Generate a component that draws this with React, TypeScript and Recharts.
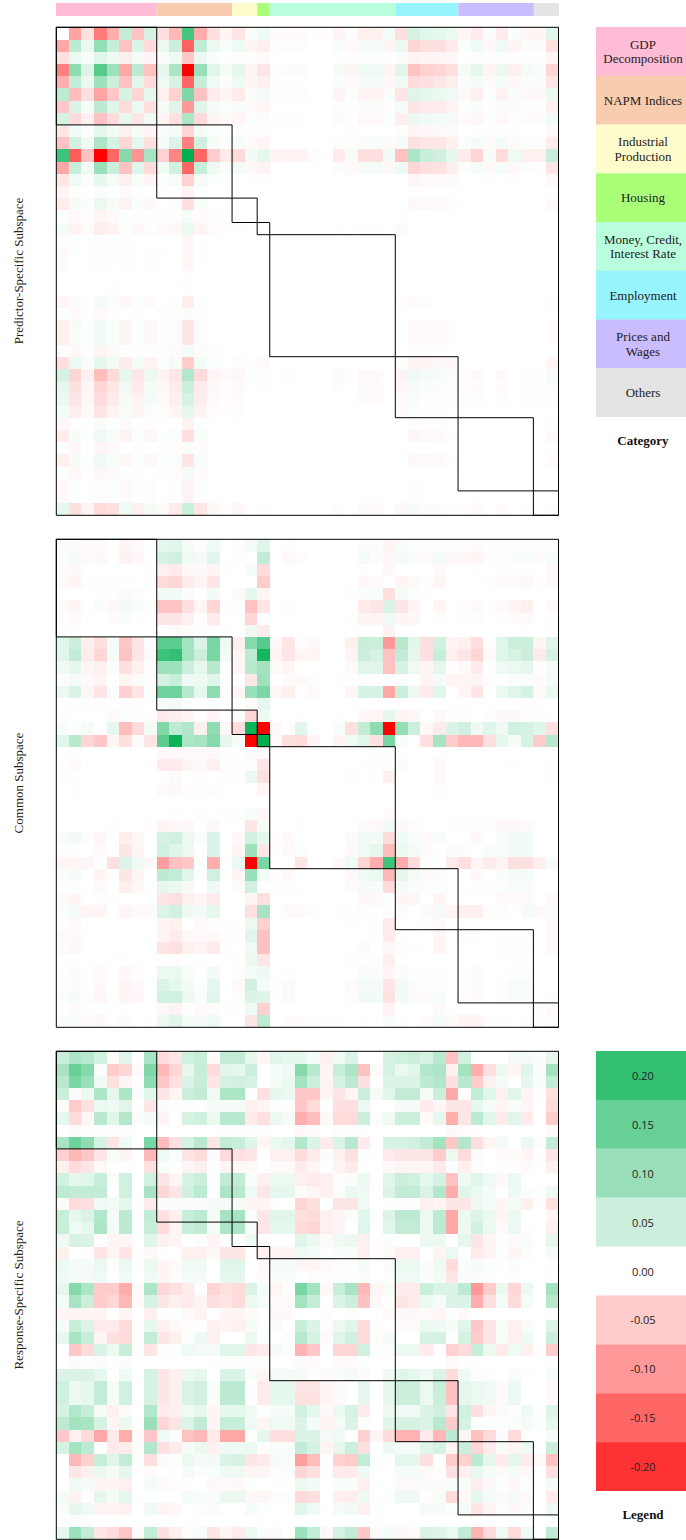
import React from 'react';
import { BarChart, Bar, ScatterChart, Scatter, XAxis, YAxis, ReferenceArea } from 'recharts';

// values are in hundredths
const predictorRows: number[][] = [
[0,-9,-3,-13,-8,6,-6,4,-3,-7,18,-8,-3,-1,-2.5,.7,1.5,-.5,-.5,-.5,-.3,-.2,-1,.5,-1.5,-1.5,1,-3,4,3,2.5,2,-1,-2,.5,-2,.5,-1,-1,3],
[-8.5,6.5,2,10.5,5.5,-6,3.5,-3.5,2,5,-15.5,6,2,.7,1.5,-1,-1.5,.2,.3,.3,0,0,.7,-.5,1,1,-1,2,-4,-3,-3,-2,.7,1.5,-.7,1.5,-1,.5,.5,-3],
[-3,2,.7,3,1.5,-1.7,1,-1,.5,1.5,-5.5,2,.5,.2,.3,-.3,-.5,0,0,0,0,0,.2,-.2,.3,.3,-.2,.5,-1.3,-1,-1,-.7,.2,.4,-.2,.4,-.3,.2,.2,-1],
[-12.5,11,3.5,16.5,9.5,-8.5,6.5,-6,2.5,8,-25,10,3,1,2.5,-1,-2.5,.3,.5,.5,0,0,1,-1,1.5,1.5,-1,3,-6,-4.5,-4,-3,1,2.5,-1,2,-1.5,1,.7,-4],
[-8,6,2,9.5,5,-6,3,-3.5,1.7,4,-15,5.5,1.5,.5,1.5,-1,-1.5,.2,.2,.2,0,0,.5,-.5,1,1,-.7,1.7,-3.5,-3,-2.5,-1.7,.5,1,-.5,1,-.7,.5,.5,-2.5],
[6.5,-6.5,-3,-9,-5.5,4,-4,2.5,-1.5,-4.5,12.5,-6,-2,-1,-2,.5,1,-.3,-.3,-.3,0,0,-1,.3,-1.2,-1.2,.5,-2.5,3,2.5,2,1.5,-.7,-1.5,.4,-1.3,.5,-.7,-.7,2],
[-5.5,3.5,1,6.5,3,-3.5,2,-3,1,3,-10,3,1,.3,.7,-.5,-1,0,0,0,0,0,.3,-.2,.5,.5,-.3,1,-2.5,-2,-2,-1.3,.3,.7,-.3,.5,-.5,.2,.2,-1.5],
[4,-3.5,-1.5,-6,-3.5,2.5,-2.5,1.5,-1,-3,8,-3.5,-1,-.5,-1,.3,.5,-.1,-.1,-.1,0,0,-.5,.1,-.7,-.7,.2,-1.5,2,1.5,1.2,1,-.5,-.8,.2,-.7,.2,-.4,-.4,1.3],
[-2.5,1.5,.5,2.5,1.2,-1.5,.8,-1,.5,1,-4,1.2,.3,.2,.3,-.2,-.3,0,0,0,0,0,0,-.1,0,0,0,.3,-1,-.7,-.7,-.5,.1,.2,-.1,.2,-.1,.1,.1,-.5],
[-6,4.5,1.5,8,4,-4,2.5,-3,1,3.5,-12.5,4.5,1,.3,1,-.5,-1,0,0,0,0,0,.3,-.3,.7,.7,-.5,1,-3,-2.5,-2.5,-1.5,.5,1,-.5,1,-.5,.3,.3,-2],
[19,-16,-6,-25,-15,12,-10.5,8.5,-4.5,-12,25,-15,-5,-2,-3.5,1.2,2.5,-1,-1.3,-1.3,-.3,0,-2,.8,-3,-3,1.2,-6,8,5.5,4.5,2.5,-2,-4,.8,-3.5,1.5,-1.5,-1.5,5.5],
[-8.5,5.5,1.7,10,5,-6,3,-3.5,1.5,4.5,-15,5.5,1.5,.5,1.2,-.7,-1.3,0,0,0,0,0,.5,-.5,1,1,-.7,1.5,-4,-3,-2.7,-1.7,.5,1,-.5,1,-.7,.5,.3,-2.5],
[-2.5,1.5,.5,2.5,1,-1.5,.7,-1,.3,.8,-4.5,1,.2,.1,.1,-.1,-.2,0,0,0,0,0,0,0,0,0,0,0,-.8,-.6,-.6,-.4,.1,.1,-.1,.1,-.1,.1,.1,-.7],
[-1,.3,.1,.6,.2,-.5,.1,-.2,.1,.2,-1.2,.3,0,0,0,0,0,0,0,0,0,0,0,0,0,0,0,0,-.3,-.1,-.1,0,0,0,0,0,0,0,0,-.1],
[-2,1,.3,2,.8,-1.3,.5,-.7,.1,.5,-3,.7,.1,0,0,0,0,0,0,0,0,0,0,0,0,0,0,.1,-.7,-.5,-.5,-.3,0,0,0,0,0,0,0,-.5],
[.4,-.5,-.2,-1,-.5,.2,-.3,.2,-.2,-.3,.9,-.4,-.2],
[1,-1.2,-.5,-1.8,-1.2,.4,-.7,.3,-.5,-.8,2,-1,-.3,-.2,-.1,0,0,0,0,0,0,0,-.2,0,-.3,-.3,0,-.5,.1],
[-.2,.2,0,.3,.2,-.1,.1,0,0,.1,-.7,.2],
[-.5,.2,0,.4,.2,-.3,.1,-.1,-.1,.1,-.8,.2],
[-.5,.1,0,.4,.1,-.2,.1,-.2,0,.1,-1,.1],
[0,0,0,0,0,0,0,0,0,0,-.2],
[0,0,0,0,-.1,0,0,0,0,0,-.1],
[-1,.5,.1,1,.5,-.7,.2,-.4,.1,.3,-1.7,.4,0,0,0,0,0,0,0,0,0,0,0,0,0,0,0,-.2,-.4,-.3,0,0,0,0,0,0,0,0,0,-.2],
[.2,-.4,-.1,-.5,-.3,.1,-.1,.1,-.1,-.3,.5,-.3],
[-1.5,.8,.2,1.2,.6,-1,.4,-.7,.2,.5,-2.5,.5,.1,0,0,0,0,0,0,0,0,0,0,0,0,0,0,0,-.6,-.6,-.6,-.2,0,0,0,0,0,0,0,-.4],
[-1.5,.7,.2,1.2,.6,-1,.4,-.7,.2,.5,-2.5,.5,.1,0,0,0,0,0,0,0,0,0,0,0,0,0,0,0,-.6,-.6,-.6,-.2,0,0,0,0,0,0,0,-.4],
[.5,-.7,-.2,-1,-.5,.2,-.3,.2,-.1,-.5,1,-.5,-.2],
[-3,2,.7,2.5,1.2,-2,1,-1.2,.3,1,-5,1.2,.3,0,.3,-.2,-.5,0,0,0,0,0,0,0,0,0,0,.2,-1,-1,-.7,-.7,0,0,0,0,0,0,0,-1],
[4,-4,-1.5,-6.5,-3.5,2.5,-2.5,2,-1.2,-2.5,7.5,-3.5,-1,-.5,-.8,.2,.4,0,-.3,0,0,0,-.5,0,-.7,-.7,0,-1.2,1.5,1,.8,.5,-.3,-.7,0,-.7,0,-.3,-.3,.8],
[2.5,-3,-1,-4,-2.5,1.5,-2,1,-.7,-2,5,-2,-.7,-.2,-.5,.1,.2,0,0,0,0,0,-.3,0,-.5,-.5,0,-.8,1,.5,.5,.3,-.2,-.4,0,-.4,0,-.2,-.2,.5],
[2,-2.5,-.7,-3.5,-2,1,-1.2,1,-.5,-1.5,4,-1.7,-.5,-.2,-.4,.1,.1,0,0,0,0,0,0,0,-.4,-.4,0,-.6,.7,.4,.4,.2,-.1,-.3,0,-.3,0,-.2,-.2,.3],
[1.2,-1.7,-.5,-2.5,-1.2,.7,-1,.5,-.3,-1,2.5,-1.2,-.3,-.1,-.3,0,0,0,0,0,0,0,0,0,0,0,0,-.4,.4,.2,.2,.1],
[-.7,.3,.1,.7,.2,-.5,.1,-.3,.1,.1,-1.3,.2,0,0,0,0,0,0,0,0,0,0,0,0,0,0,0,0,-.3,-.2,-.2,0,0,0,0,0,0,0,0,-.2],
[-2,.8,.2,1.5,.7,-1.2,.4,-.8,.2,.6,-3,.7,.1,0,0,0,0,0,0,0,0,0,0,0,0,0,0,.1,-.8,-.5,-.5,-.2,0,0,0,0,0,0,0,-.5],
[.2,-.7,-.2,-.8,-.5,.1,-.3,.1,-.1,-.4,.7,-.4],
[-1.5,.8,.2,1.5,.7,-.9,.4,-.7,.2,.6,-2.5,.6,.1,0,0,0,0,0,0,0,0,0,0,0,0,0,0,0,-.7,-.5,-.5,-.2,0,0,0,0,0,0,0,-.4],
[.3,-.7,-.2,-.9,-.5,.1,-.3,.1,-.1,-.4,1,-.4],
[-.7,.3,.1,.4,.3,-.5,.2,-.3,.1,.2,-1.2,.3,0,0,0,0,0,0,0,0,0,0,0,0,0,0,0,0,-.2],
[-.7,.3,.1,.4,.3,-.5,.2,-.3,.1,.2,-1.2,.3,0,0,0,0,0,0,0,0,0,0,0,0,0,0,0,0,-.2],
[2.5,-3,-1,-3.5,-3,1.7,-1.5,1,-.5,-2,5,-2.5,-.7,-.2,-.7,.1,.2,0,0,0,0,0,-.3,0,-.5,-.5,0,-.7,.8,.5,.5,.2,-.2,-.5,0,-.4,0,-.2,0,.4],
];

const commonRows: number[][] = [
[.5,.5,-.5,-.5,0,-1,-.5,0,2.5,3,1,.5,1.5,0,-.2,1,3,0,-.2,0,0,0,0,0,.5,.5,-1,.7,.2,-.2,.3,-.2,-.3,-.5,-.1,.3,.4,.3,-.3,-.1],
[.5,1,-.5,-.7,0,-1.3,-.7,0,4,4.5,1.5,1,3,0,-.2,0,6,0,-.7,-.3,0,0,0,0,1,.5,-.7,1,.5,-.5,1.2,-.7,-.7,-1,-.2,.3,.5,.7,-.5,.7],
[-.5,-.7,0,.1,0,0,0,0,-1.5,-2,-.7,-.7,-1,-.2,0,1,-3.5,0,0,0,0,0,0,0,-.2,0,-.7,0,0,0,-.7,0,0,-.1,0,-.2,-.2,-.2,0,-.7],
[-.5,-1,.2,.2,-.1,.2,0,0,-3.5,-4,-2,-1,-2.5,0,0,0,-5,0,0,0,0,0,0,0,-.7,-.5,0,-1,-.5,-.2,-1,0,0,0,.2,-.5,-.5,-.7,-.2,-.7],
[0,0,0,-.2,.1,-.5,-.3,0,1.7,1.2,.5,0,1.2,0,-.5,2.5,-1,0,0,0,0,0,0,.2,.5,.7,-3,1,.3,-.1],
[-.5,-1,.1,.5,-.7,1.2,.5,0,-6,-6,-3,-1,-4,-.1,.2,-6,-2.5,0,.2,.1,0,0,.1,.1,-2,-2.5,3.5,-2.5,-1,.1,-1,0,-.2,-.5,-.2,-.5,-1,-1.5,0,-.5],
[-.3,-.5,0,0,-.4,.5,.2,0,-2.5,-2.5,-1.5,-.3,-2,0,0,-4,-.2,0,0,0,0,0,0,-.1,-1,-1,1.7,-1,-.7,0,-.3,0,-.1,-.3,0,-.3,-.4,-.5,0,-.2],
[0,-.1,0,0,0,0,0,0,-.3,-.5,-.3,-.1,-.2,-.1,0,1.5,-2,0,0,0,0,0,0,0,0,.1,-1.3,0,0,0,0,0,0,0,0,0,0,0,0,-.2],
[3,5,-1.5,-3,1,-5.5,-2.5,-.2,16,16,9,3.5,13,1.5,-1.7,12,16.5,-.7,-2.5,0,-.7,0,0,-1.5,5.5,5,-10,7,3,-3,4.5,-1,-1.5,-3,0,3,5,5,-1,3],
[3,6,-2,-4,1,-6,-2.5,-.5,19,20,9,5,13,1,-1,6.5,23,-1,-2.5,-1,-1,0,0,-1,5,4,-6,6,2.5,-3,5.5,-1.5,-2.5,-4,-.5,3,4,5,-2,4],
[1.5,2.5,-1,-1.5,.5,-3,-1.5,0,9.5,9.5,5,2.5,7,.2,-1,7,9,-.5,-1,0,0,0,0,-.5,3,3,-6,4,1.5,-1,2.5,-.2,-.5,-2,0,1.5,2,2.5,-.2,1],
[.5,1,-.5,-1,0,-1,-.5,-.2,4,5.5,1.5,1.5,3,0,0,-2.5,9.5,0,-.5,-.5,-.3,0,-.2,0,.5,0,.3,.3,.2,-1,1,-1,-1,-1,-.3,-.1,.5,.5,-.5,1],
[2,3.5,-1,-2.5,.5,-4.5,-2.5,0,14,14,7,2.5,11,.5,-1,10,13,-.7,-1.5,0,-.5,0,0,-1,4,4,-8.5,5,2,-2,3,0,-1,-2.5,0,2,3,4,-.5,2],
[0,.2,-.2,-.2,0,-.2,0,0,1,1.2,.3,.3,.5,.2,0,-.5,2.5],
[-.2,0,0,0,-.5,.3,.2,-.2,-2,-1.5,-1,-.2,-1,0,.5,-4,1.5,0,0,-.2,0,0,-.2,0,-.7,-1,2.5,-1,-.7,0,-.7,-.3,-.3,0,-.3,-.7,-.7,-.3,-.3,0],
[.7,.2,1,0,2.5,-6.5,-3.5,1,12.5,6.5,7.5,-1.5,11,-1,-3.5,24,-25,-.7,-.2,3,0,0,.7,-3,6,11,-25,10.5,5,-.7,-2,3.5,4.5,1.5,3,1.5,4.5,4,3,-3],
[3,7,-4,-5.5,-1,-3,-.5,-2.5,16,24,8,8.5,12,2.5,1,-25,25,-.5,-3,-3.5,-1,0,-1,1.5,3,-3,13,.7,0,-3,8.5,-5,-7,-7,-3,2.5,1,4,-5,7],
[0,-.2,0,0,0,0,0,0,-.7,-.7,-.5,-.5,-.7,-.1,-.1,-.5,-.7,0,0,0,0,0,0,0,0,-.2,-.2],
[-.2,-.5,0,0,0,0,0,0,-2,-2,-1,-.7,-1.5,-.1,-.1,-.2,-2.5,0,0,0,0,0,0,0,-.2,-.2,-.1,-.5,0,0,-.7,0,0,0,0,0,-.2,0,0,-.2],
[-.1,-.2,0,0,0,0,0,0,0,-.5,0,-.2,0,-.1,-.1,2,-3,0,0,0,0,0,0,-.1,0,.2,-1.5,0,0,0,-.7,0,0,0,0,0,0,0,0,-.2],
[0,-.1,0,0,0,0,0,0,-.5,-.7,-.2,-.2,-.3,0,0,0,-1,0,0,0,0,0,0,0,0,0,0,0,0,0,-.2],
[0],
[0,0,0,0,0,0,0,0,0,-.1,0,-.1,0,-.1,-.1,.7,-.8,0,0,0,0,0,0,0,0,0,-.4],
[0,0,0,0,-.2,.1,0,-.2,-1,-.7,-.7,0,-.7,0,0,-2.5,1,0,0,-.2,0,0,0,0,-.5,-.7,1.2,-.7,-.3,0,0,-.2,-.2,-.2,-.2,-.7,-.7,-.5,0,0],
[.7,1.2,-.3,-.8,.2,-1.7,-.8,0,4,4.5,2,.5,3.5,0,-.7,4.5,2.5,-.2,-.7,0,0,0,0,-.5,1.5,1.2,-3.5,1.5,.7,-.5,.7,0,0,-.7,0,.5,1.2,1.2,0,0],
[.3,.4,0,-.5,.4,-2.5,-1,0,4.5,3,2,0,3.5,0,-1,9.5,-2.5,-.2,-.5,.3,0,0,0,-.7,1.5,2.5,-6.5,2,1,-.5,0,.5,.5,0,.7,.7,1.2,1.2,0,0],
[-1,-1,-1,0,-3,3.5,1.5,-.7,-9.5,-6,-5.5,.2,-8,0,2,-25,13,0,0,-2.5,0,0,-.7,1.5,-4,-8,19,-8,-3.5,0,0,-2,-3,-1,-2,-1.2,-3,-3,-1.5,1],
[.7,1,0,-1,.4,-2.5,-1,0,6.5,6,3,.3,4.5,0,-1,10,1.2,-.2,-.7,.1,0,0,0,-.7,1.5,2,-7,2.5,1,-.5,.5,0,0,-.7,0,.5,1,1,0,0],
[.2,.3,0,-.5,0,-1.5,-.7,0,2.5,2,1,0,1.5,0,-.5,4.5,.1,-.2,-.2,0,0,0,0,-.5,.8,.8,-3.5,1,.5,-.3,.2,0,0,-.2,-.1,.4,.7,.7,0,0],
[-.5,-1,0,.2,-.2,.1,0,0,-2.5,-3,-1.5,-1,-2,0,0,-1,-3,0,0,0,0,0,0,0,-.7,-.7,.2,-1,-.7,0,-1,0,0,0,0,-.5,-.5,-.5,0,-.5],
[.5,1,-1,-1,0,-1,-.5,-.5,3.5,4.5,1.5,1.2,2.5,0,0,-3,8.5,0,-.5,-.5,-.3,0,-.2,0,.4,0,.2,.5,.1,-.5,1,-1,-1.5,-1.5,-.3,-.3,0,1,-.7,.8],
[-.2,-.5,0,0,0,0,0,0,-1,-1.5,0,-.5,-.2,-.1,-.2,2,-4.5,0,0,0,0,0,0,-.2,0,.2,-2,0,0,-.2,-.5,0,0,0,0,0,0,0,0,-.5],
[-.5,-.7,0,0,0,0,0,0,-1.2,-2,-.7,-.7,-.7,-.3,-.2,3,-6,0,0,0,0,0,0,0,0,.2,-2,0,0,0,-1,0,.2,.2,0,0,0,0,0,-.7],
[-.5,-.8,0,.1,0,.1,0,0,-2.5,-3,-1.5,-1.2,-2,-.3,0,1.5,-6,0,0,0,0,0,0,0,-.4,0,-.7,-.3,-.1,0,-1,0,0,0,0,-.3,-.3,-.3,0,-.5],
[0,-.1,0,0,0,-.2,0,0,0,-.2,0,0,0,0,-.2,2,-2.5,0,0,0,0,0,0,-.2,0,.3,-1.5],
[.2,.5,-.2,-.5,0,-.7,-.3,0,2,2,.7,.2,1.2,0,-.2,1,1.8,0,-.2,0,0,0,0,0,.5,.5,-1,.5,.2,-.2,.2,0,0,-.4,0,.1,.3,.3,0,0],
[.3,.5,-.2,-.7,.2,-1,-.6,0,3.5,2.5,1.2,.3,2.5,0,-.6,4.5,1,-.2,-.5,0,0,0,0,-.5,1,1,-2.5,1.2,.5,-.3,.4,0,0,-.5,0,.3,.7,.7,0,.1],
[.5,.8,-.3,-.8,.2,-1,-.7,0,4.5,4.5,2,.7,3,0,-.3,3.5,3,-.2,-.5,0,0,0,0,-.3,1.2,1.2,-2.7,1.2,.5,-.5,.7,0,-.2,-.5,0,.4,.7,.7,0,.3],
[-.1,-.4,0,0,0,0,0,0,-.7,-1.2,-.2,-.5,-.5,-.1,-.1,1.5,-4.5,0,0,0,0,0,0,0,0,0,-1.2,0,0,0,-.5,0,0,0,0,0,0,0,.2,-.5],
[.5,.7,-.5,-.7,0,-.5,0,-.1,2,3,1,1,1.5,.1,0,-2.5,6.5,0,-.4,-.4,-.3,-.1,-.2,0,.2,0,.7,.3,0,-.4,1,-.5,-1,-1,-.2,-.2,0,.5,-.3,.5],
];

const responseRows: number[][] = [
[5.5,8,7,4.5,-.5,3,0,8.5,-3.5,-2.5,4.5,5.5,-.5,6,6,2.5,-1,3,2.5,2.5,1,-1.5,1.5,3.5,0,0,4,4.5,5,4,7,-6,4.5,0,0,0,1,1,.5,2.5],
[8.5,15,12,.5,-5,-4,-.5,12.5,-7,-4,2.5,5.5,-3.5,3,2.5,5,0,1,1.5,12,7,-1,5.5,8,-6,-.5,4,2,3,7.5,8,-1.5,9,-8,-3,2,-1,3,.5,9],
[7,13,10,1.5,-3,-1,-.2,11,-5.5,-3,3.5,5.5,-2.5,4,4.5,4,0,1,2,9,5,-1,4,6.5,-3,0,3.5,3.5,3.5,6.5,7.5,-3,7,-5,-1.5,1,0,2.5,.5,6],
[5,.5,2,8,2.5,8,.5,3,-2.5,-1,5,6,1.5,8,8,0,-3,2.5,2,-5.5,-5.5,-1,-2.5,-1,5,1,3,6,6,1,5,-8.5,-.2,6,3,-1.5,3,-1,-.2,-3],
[-.5,-5,-3,2,1.5,3,.2,-2.5,.5,.3,.3,.2,1,1,1,-1.5,-1,.3,.2,-5.5,-3.5,0,-3,-3,2,0,0,1,1,-2,-1,-2.5,-2.5,2.5,1,-1,.5,-1,0,-3.5],
[2.5,-3.5,-1,7,3,7.5,.5,1,-1,0,4,4.5,2,7,7,-2,-3,2,1,-8,-6.5,-.7,-3.5,-3.5,5,.5,1.5,5,5,-.5,2.5,-8,-2.5,6.5,3,-2,3,-2,0,-5],
[0,-.5,-.3,.2,.2,.4,0,0,0,.1,.1,.1,.1,.2,.2,-.1,-.2,0,0,-.7,-.5,0,-.3,-.3,.2,0,0,0,0,0,0,-.7,-.4,-.2,0,0,0,0,0,-.5],
[8.5,14,11,4,-2.5,1.5,0,13,-6.5,-3,4,7,-2.5,6,5.5,3,-1,2,2.5,7.5,3.5,-2,3.5,7,-2,0,4,4,4.5,6,9,-5.5,7.5,-3,-1,1,0,2,.5,6],
[-4.5,-7,-5.5,-2.5,.7,-1,0,-7,1.5,.7,-2.5,-3.5,.5,-3.5,-3,-2.5,0,-1.5,-1.5,-3.5,-2,.5,-1.5,-3,.3,0,-2,-2.5,-2.5,-2.5,-5,2,-3.5,.5,0,-.5,-.5,-1,-.2,-2.5],
[-1.5,-3.5,-2.5,-.7,.1,0,0,-3,.7,.2,-1,-1.5,.1,-1,-.7,-.7,0,-.5,-.5,-2,-1,.1,-1,-2,.1,0,-.7,-1,-1,-1,-2,.5,-1.5,.3,0,-.2,-.2,-.5,0,-1.5],
[4.5,2.5,3,5.5,.7,4.5,0,4.5,-2.5,-1,4,5,.2,6,6,.5,-1.5,2,2,-1.5,-2,-1.5,-.3,.5,2,0,3,5,4.5,2.5,4,-6,1.5,3,1.5,-.7,2,0,0,0],
[6.5,6,6,6,0,4.5,0,8.5,-4,-2.5,4.5,6.5,0,8,7,1.5,-2.5,2.5,2.5,.5,-1,-1.5,.5,2,1.5,0,3.5,6,6,3.5,7.5,-8,3,2,1,0,1.5,.5,.3,1.5],
[-.5,-3.5,-3,1.5,1.2,2.5,0,-2,.5,.5,.5,.5,1,1,1,-1,-1,.2,0,-4,-3,0,-2.5,-2.5,1.5,0,.2,.2,.2,-1.5,-1,-2.5,-2.5,2,1,-1,1,-1.5,-.2,-3],
[5.5,2.5,3.5,7.5,1,6.5,0,6,-3,-1.5,5.5,6.5,1,8.5,8.5,.5,-2.5,3,3,-3,-3.5,-1.5,-1,.5,3,.3,3.5,6.5,6.5,2,6.5,-8.5,2,3.5,2,-1,2,0,0,-1],
[5.5,1.5,2.5,8,1.2,6.5,0,5.5,-3.5,-1,5.5,6,1,8,8,.5,-2.5,2.5,2.5,-3.5,-4,-1.5,-1,0,3,0,3,6,6,2,6.5,-8.5,1.5,4.5,2,-.5,2,-.2,0,-1.5],
[1.5,4,3.5,-.3,-1,-1,0,3,-1.5,-1,.1,.5,-1,.2,0,1.5,0,0,0,3,2,-.5,1.5,2,-1.5,-.2,.5,.1,.1,2,2,0,2.5,-2.5,-1,.3,-.5,.7,.1,2.5],
[-1.5,0,-.2,-2.5,-1,-2.5,-.2,-.7,.2,0,-1.5,-1.5,-.7,-2.5,-2.5,0,-1.5,-1,-1,1.5,1,.2,.5,.7,-1.5,-.2,-.5,-1.5,-1.5,0,-1,2,0,-2,-1,.3,-1,.3,0,1],
[2,1,1,2,.3,2,0,2,-1,-.5,1.5,1.5,0,3,3,.1,-.7,1,1,-1,-1,-.5,-.3,.1,1,0,.5,2,2,.5,1.5,-3.5,.5,1,.3,-.2,.5,0,0,-.2],
[1.5,1,1,1.5,0,1.5,0,1.5,-1,-.3,1,1,0,2.5,2.5,.1,-.5,.7,.7,0,-.3,-.3,.2,.3,.5,0,.3,1.5,1.5,.5,1.2,-2.5,.5,.5,.3,0,.3,0,0,.2],
[2.5,12,8,-5,-5,-8,-.5,8,-4,-3,-2,0,-4,-3,-3.5,3.5,1,-1,-.2,13,9,-.7,5.5,8.5,-7,-1,.7,-2,-2,5,3.5,3.5,6.5,-10,-5,2,-4,2,0,9],
[1,8.5,5,-5,-4,-7,-.5,4,-2.5,-1.5,-2,-1,-3,-2.5,-3.5,2,1,-.5,-.5,9,6,0,3.5,5,-6,-.7,0,-2.5,-2,2,1,3.5,3.5,-8,-3,1,-3.5,1,0,7],
[-1,-1,-1,-1,0,-1,0,-1.5,.2,.2,-.5,-1,0,-1,-1,-.5,0,-.7,-.7,.1,.1,-.3,0,-.3,0,0,-.5,-.7,-.7,-.5,-1,.2,-.7,0,0,0,0,0,0,-.3],
[1,5.5,3.5,-2,-2,-3.5,-.2,2.5,-1.5,-.7,-.3,.2,-1.5,-1,-1.5,1,.2,-.5,0,5.5,3.5,-.3,2,3,-3.5,-.2,.1,-.5,-.5,2,1.5,1,3,-5.5,-2.5,.7,-1.5,.7,0,3.5],
[2.5,8.5,5.5,-1,-3,-3.5,-.3,6,-2.5,-1.5,.3,1.5,-1.5,.1,0,2,.2,0,.3,7,4,-.5,3,4.5,-3.5,-.3,1,0,.1,4,4,.2,4,-5,-2.5,.7,-1.5,1.5,0,5],
[0,-5.5,-3.5,3.5,2,5.5,.2,-2.5,.2,.2,1.5,1,1,3,3,-2.5,-2,1,.5,-7.5,-5.5,0,-4,-4,4.5,.2,.2,2,2,-2,0,-4.5,-3.5,5.5,2,-2,1.5,-1.5,-.2,-5],
[0,-.5,-.3,.5,.2,.5,0,0,0,.1,.1,.1,.2,.3,.3,-.3,-.3,0,0,-.5,-.5,0,-.4,-.4,.2,0,0,.1,.1,0,0,-.5,-.2,.2,0,0,0,0,0,-.2],
[3.5,3.5,3.5,2.5,0,1.7,0,4,-2.5,-1.5,2,2.5,0,3.5,3.5,.7,-1,1,1,1,0,-.5,.5,1,.5,0,1.5,3,2.5,1.5,3.5,-3.5,1.5,.3,.3,0,.7,.2,0,1],
[4.5,2,2.5,6,1,4.5,0,4,-2.5,-1.5,3.5,4.5,.5,6.5,6.5,0,-2,2.5,2.5,-2.5,-2.5,-1,-.5,0,2.5,0,2.5,5,5,2,5.5,-6,2.5,2,1.5,-.5,2,0,0,-.5],
[4.5,2,2.5,6,1,4.5,0,4,-2.5,-1.5,3.5,4.5,.5,6.5,6.5,0,-2,2.5,2.5,-3,-3,-1,-.5,0,2.5,0,2.5,5,5,2,5,-6,2.5,2,1.5,-.5,2,0,0,-.7],
[4,7.5,5.5,1,-1.5,-.5,0,7.5,-2,-1.5,1.5,2.5,-1,2.5,2.5,1.5,0,1,1,4.5,2.5,-.7,2,4,-2,0,2,1.5,1.5,3.5,4.5,-2.5,4.5,-3,-1,.7,-.1,1.5,.2,3.5],
[6.5,9,8.5,4,-1,2,0,10,-4,-2.5,3.5,6,-1,5.5,5.5,1.5,-1,1.5,1.5,3.5,1,-1,1,3.5,-.2,0,3,4,4,3.5,7,-5,4,0,0,.3,.5,1,.2,2.5],
[-5.5,-1.5,-3.5,-8.5,-2,-8,-.5,-5.5,1.5,.5,-6,-7,-2,-8.5,-8.5,0,2.5,-3,-3,3.5,3.5,1,1.5,.1,-4.5,-1,-3.5,-7.5,-7.5,-2,-7,6.5,-1,-6,-3.5,.5,-3.5,0,0,.7],
[4,9,6.5,0,-2,-2,-.3,7.5,-3,-2,1,2,-1.5,1.5,1.5,2,-.2,.7,.7,6,4,-1,2.5,5,-3,0,1.5,1,1,3,4,-1,5,-4,-2,.7,-1,1.5,0,5],
[0,-7,-4.5,5.5,3,6,.3,-3,.5,.3,2,1,1.2,3.5,4,-2.5,-2,1,.7,-9.5,-6.5,0,-4.5,-5,6,.3,.1,2.5,2.5,-3,0,-5,-4.5,6.5,2.5,-2,2.5,-2,-.5,-6],
[0,-2.5,-1.5,2,1,2.5,0,-.5,0,0,1,.5,.7,1.5,1.5,-1,-1,.5,.5,-4,-3,0,-2,-2,1.5,0,0,1,1,-.7,-.2,-3,-1.5,2.5,1,-.5,1,-.7,0,-3],
[0,1.5,1,-1,-1,-1.5,0,1,-.5,-.3,-.2,0,-.7,-.5,-.7,.3,0,-.1,-.1,2,1.2,0,.7,.7,-1.5,0,0,-.5,-.5,.5,.5,.7,.7,-1.7,-.7,.2,-.7,.3,0,1],
[1,-1.2,-.2,2.5,1,2.5,0,.2,-.2,0,1,.7,.7,2,2,-.7,-1,.5,.5,-3.5,-3,0,-1.5,-1.7,1.5,0,.3,1.5,1.5,-.2,.7,-3.5,-.7,2.5,1,-.5,1,-.5,0,-2],
[.7,2.5,1.7,-1,-1.2,-1.5,0,1.5,-1,-.7,0,.3,-.5,0,0,1,.2,0,0,2.7,1.5,0,1,1.2,-1.5,-.1,0,0,0,1,.8,.3,1,-2.5,-1,.3,-.7,.5,0,1.7],
[.3,.5,.4,0,0,0,0,.3,-.1,-.1,0,0,0,0,0,0,0,0,0,.2,.1,0,0,0,-.1,0,0,0,0,.1,.1,0,.1,-.3,-.2,0,0,0,0,.3],
[2.5,9.5,6,-2.5,-3.5,-5.5,-.5,6,-3,-1.5,-.3,.7,-2.5,-1,-2,2,.5,-.5,0,9.5,6,-.7,4,6,-5.5,-.5,1,-.7,-.5,3.5,3,2,6,-7.5,-3.5,1.5,-3.5,1.5,0,6],
];

const categoryLabels = [
  ['GDP', 'Decomposition'], ['NAPM Indices'], ['Industrial', 'Production'], ['Housing'],
  ['Money, Credit,', 'Interest Rate'], ['Employment'], ['Prices and', 'Wages'], ['Others'],
];
const categorySizes = [8, 6, 2, 1, 10, 5, 6, 2];
const categoryColors = ['#ffbcd6', '#f8ccaf', '#fffccc', '#aaff78', '#baffdd', '#96f5ff', '#c9bcff', '#e4e4e4'];

const legendLabels = ['0.20', '0.15', '0.10', '0.05', '0.00', '-0.05', '-0.10', '-0.15', '-0.20'];
const legendColors = ['#33c073', '#66d097', '#99dfb9', '#cceedc', '#ffffff', '#ffcccc', '#ff9999', '#ff6666', '#ff3333'];

const panelTitles = ['Predictor-Specific Subspace', 'Common Subspace', 'Response-Specific Subspace'];
const panelTops = [26, 538, 1050];
const panelRows = [predictorRows, commonRows, responseRows];

const SERIF = '"Liberation Serif", "Times New Roman", serif';
const GRID = 40;
const PLOT_W = 502.2;
const PLOT_H = 488;

const mix = (from: number, to: number, t: number) => Math.round(from + (to - from) * t);
const tint = (v: number) => {
  const t = Math.min(Math.abs(v) / 25, 1);
  const c = v >= 0 ? [0, 176, 80] : [255, 0, 0];
  return `rgb(${mix(255, c[0], t)},${mix(255, c[1], t)},${mix(255, c[2], t)})`;
};

const toCells = (rows: number[][]) => {
  const out: { col: number; row: number; v: number }[] = [];
  rows.forEach((vals, r) => {
    for (let c = 0; c < GRID; c++) out.push({ col: c + 0.5, row: r + 0.5, v: vals[c] ?? 0 });
  });
  return out;
};

const blocks = categorySizes.map((size, i) => {
  const start = categorySizes.slice(0, i).reduce((a, b) => a + b, 0);
  return { start, end: start + size };
});
const blockAnchors = blocks.map((b) => ({ col: b.start, row: b.start }));

const CellShape = (p: any) => {
  const w = PLOT_W / GRID;
  const h = PLOT_H / GRID;
  return <rect x={p.cx - w / 2} y={p.cy - h / 2} width={w} height={h} fill={tint(p.payload.v)} shapeRendering="crispEdges" />;
};
const NoShape = () => <g />;

const panelMargin = { top: 1.3, right: 1.5, bottom: 1.7, left: 56.3 };

const Panel = ({ rows, top }: { rows: number[][]; top: number }) => (
  <>
    <div style={{ position: 'absolute', left: 0, top }}>
      <ScatterChart width={560} height={491} margin={panelMargin}>
        <XAxis type="number" dataKey="col" domain={[0, GRID]} hide />
        <YAxis type="number" dataKey="row" domain={[0, GRID]} reversed hide />
        <Scatter data={toCells(rows)} shape={CellShape} isAnimationActive={false} />
      </ScatterChart>
    </div>
    <div style={{ position: 'absolute', left: 0, top }}>
      <ScatterChart width={560} height={491} margin={panelMargin}>
        <XAxis type="number" dataKey="col" domain={[0, GRID]} hide />
        <YAxis type="number" dataKey="row" domain={[0, GRID]} reversed hide />
        <Scatter data={blockAnchors} shape={NoShape} isAnimationActive={false} />
        {blocks.map((b) => (
          <ReferenceArea key={b.start} x1={b.start} x2={b.end} y1={b.start} y2={b.end} fill="none" stroke="#000" strokeWidth={1} ifOverflow="visible" />
        ))}
        <ReferenceArea x1={0} x2={GRID} y1={0} y2={GRID} fill="none" stroke="#000" strokeWidth={1} ifOverflow="visible" />
      </ScatterChart>
    </div>
  </>
);

const StackStrip = () => {
  const row: Record<string, number | string> = { name: 'categories' };
  categorySizes.forEach((s, i) => { row[`c${i}`] = s; });
  return (
    <div style={{ position: 'absolute', left: 0, top: 0 }}>
      <BarChart width={560} height={20} layout="vertical" data={[row]} barCategoryGap={0} margin={{ top: 3, right: 1, bottom: 4, left: 56 }}>
        <XAxis type="number" domain={[0, GRID]} hide />
        <YAxis type="category" dataKey="name" hide />
        {categorySizes.map((_, i) => (
          <Bar key={i} dataKey={`c${i}`} stackId="s" fill={categoryColors[i]} isAnimationActive={false} />
        ))}
      </BarChart>
    </div>
  );
};

const KeyShape = (font: string, size: number, lineH: number) => (p: any) => {
  const lines: string[] = p.payload.lines;
  const cx = p.x + 47;
  const cy = p.y + p.height / 2;
  return (
    <g>
      <rect x={p.x} y={p.y} width={p.width} height={p.height} fill={p.payload.color} />
      {lines.map((l, i) => (
        <text key={i} x={cx} y={cy + (i - (lines.length - 1) / 2) * lineH} textAnchor="middle" dominantBaseline="central" fontFamily={font} fontSize={size} fill="#222">
          {l}
        </text>
      ))}
    </g>
  );
};

const KeyColumn = ({ data, top, height, font, size }: any) => (
  <div style={{ position: 'absolute', left: 596, top }}>
    <BarChart width={90} height={height} layout="vertical" data={data} barCategoryGap={0} margin={{ top: 0, right: 0, bottom: 0, left: 0 }}>
      <XAxis type="number" domain={[0, 1]} hide />
      <YAxis type="category" dataKey="name" hide />
      <Bar dataKey="value" shape={KeyShape(font, size, 14.7)} isAnimationActive={false} />
    </BarChart>
  </div>
);

const captionStyle: React.CSSProperties = {
  position: 'absolute', transform: 'translate(-50%,-50%)', fontFamily: SERIF, fontSize: 13, fontWeight: 700, color: '#111', whiteSpace: 'nowrap',
};

export default function App() {
  const categoryData = categoryLabels.map((lines, i) => ({ name: lines.join(' '), lines, color: categoryColors[i], value: 1 }));
  const legendData = legendLabels.map((l, i) => ({ name: l, lines: [l], color: legendColors[i], value: 1 }));
  return (
    <div style={{ position: 'absolute', left: 0, top: 0, width: 686, height: 1540, overflow: 'hidden', background: '#fff' }}>
      <StackStrip />
      {panelRows.map((rows, i) => <Panel key={i} rows={rows} top={panelTops[i]} />)}
      {panelTitles.map((t, i) => (
        <div key={t} style={{ position: 'absolute', left: 19, top: panelTops[i] + 245, transform: 'translate(-50%,-50%) rotate(-90deg)', fontFamily: SERIF, fontSize: 13, color: '#222', whiteSpace: 'nowrap' }}>
          {t}
        </div>
      ))}
      <KeyColumn data={categoryData} top={27} height={390} font={SERIF} size={13} />
      <div style={{ ...captionStyle, left: 643, top: 441 }}>Category</div>
      <KeyColumn data={legendData} top={1051} height={440} font='"Open Sans", sans-serif' size={11} />
      <div style={{ ...captionStyle, left: 643, top: 1515 }}>Legend</div>
    </div>
  );
}
